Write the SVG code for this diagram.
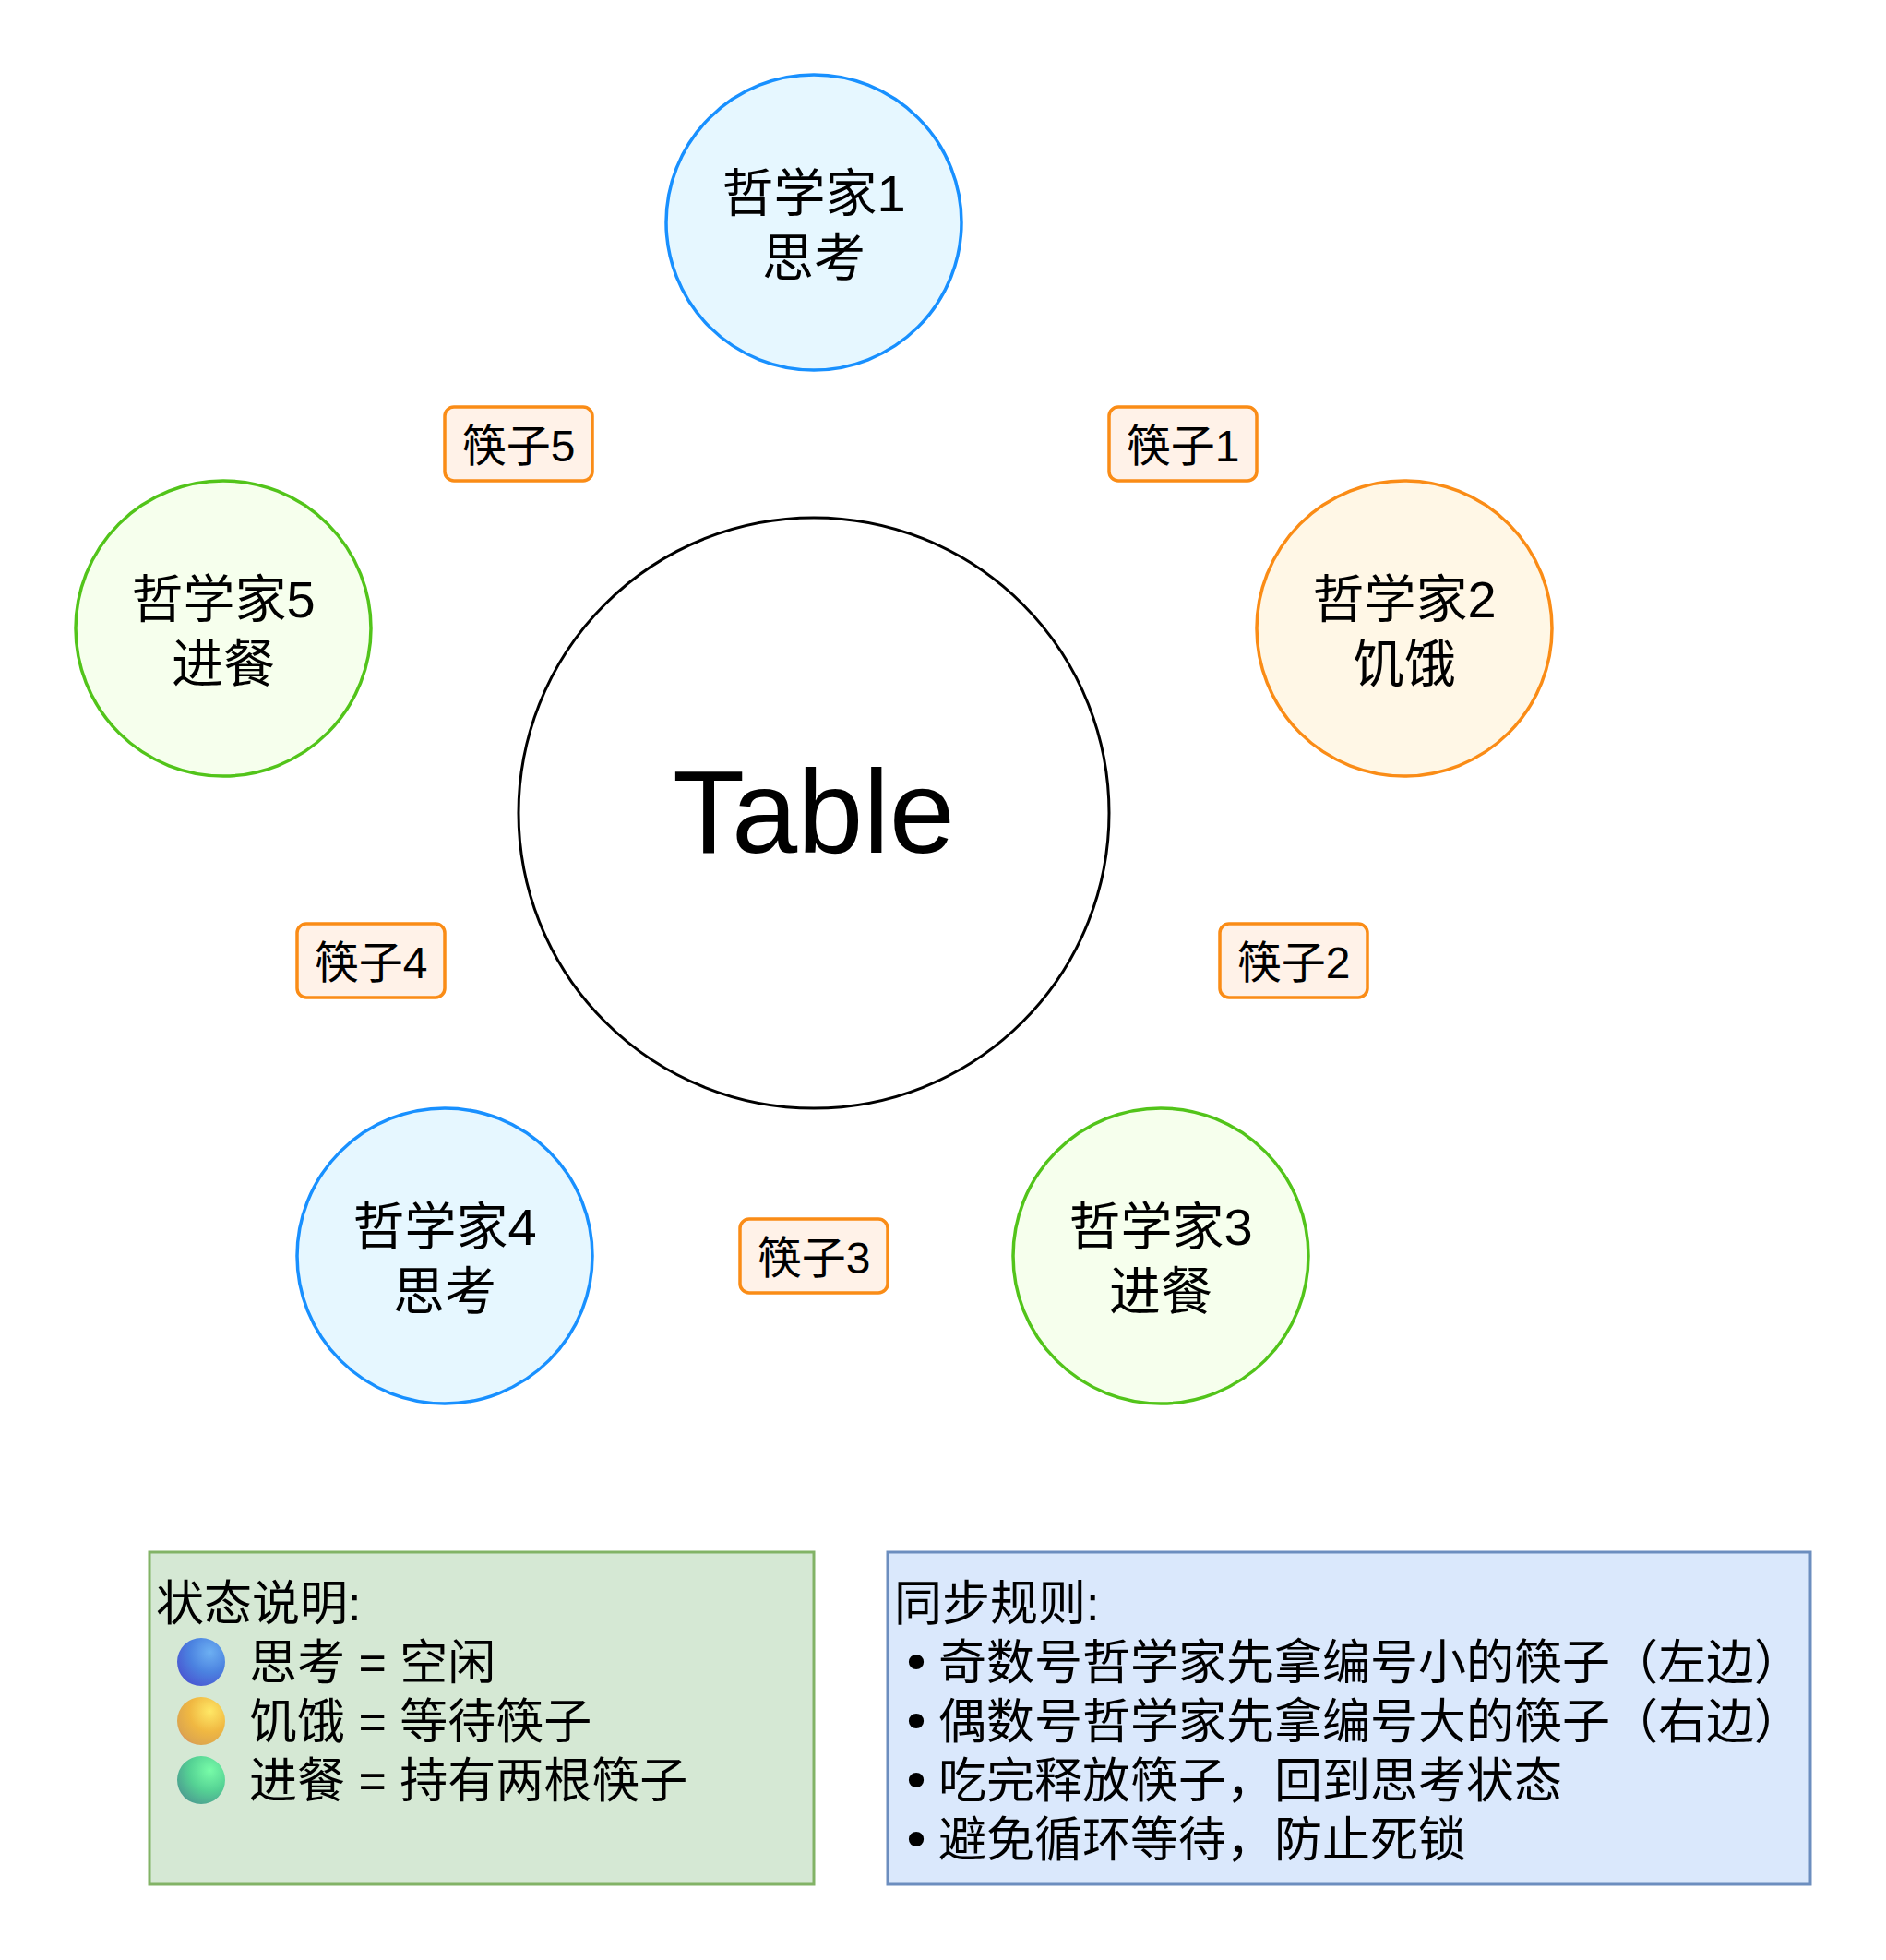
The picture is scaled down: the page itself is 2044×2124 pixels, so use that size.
<svg xmlns="http://www.w3.org/2000/svg" width="2044" height="2124" viewBox="0 0 2044 2124">
  <defs>
    <style>
      text { font-family: "Liberation Sans", "Noto Sans CJK SC", sans-serif; fill: #000; }
      .phil { stroke-width: 3.5; }
      .think { fill: #E6F7FF; stroke: #1890FF; }
      .hungry { fill: #FFF7E6; stroke: #FA8C16; }
      .eat { fill: #F6FFED; stroke: #52C41A; }
      .ptxt { font-size: 56px; text-anchor: middle; }
      .chop { fill: #FFF2E8; stroke: #FA8C16; stroke-width: 3.5; }
      .ctxt { font-size: 48px; text-anchor: middle; }
      .btxt { font-size: 52px; }
      .bullet { font-family: "DejaVu Sans", sans-serif; font-size: 56px; text-anchor: middle; }
    </style>
    <radialGradient id="gBlue" cx="0.68" cy="0.3" r="0.85">
      <stop offset="0" stop-color="#6DB0F2"/>
      <stop offset="0.5" stop-color="#4B82E0"/>
      <stop offset="1" stop-color="#4A4FCF"/>
    </radialGradient>
    <radialGradient id="gYellow" cx="0.68" cy="0.3" r="0.85">
      <stop offset="0" stop-color="#FFE866"/>
      <stop offset="0.5" stop-color="#F0B842"/>
      <stop offset="0.85" stop-color="#DDA64E"/>
      <stop offset="1" stop-color="#E07A66"/>
    </radialGradient>
    <radialGradient id="gGreen" cx="0.68" cy="0.3" r="0.85">
      <stop offset="0" stop-color="#78FCA8"/>
      <stop offset="0.5" stop-color="#55D294"/>
      <stop offset="1" stop-color="#4A9490"/>
    </radialGradient>
  </defs>

  <rect x="0" y="0" width="2044" height="2124" fill="#FFFFFF"/>

  <g id="connectors"></g>

  <g id="table">
    <circle cx="882" cy="881" r="320" fill="#FFFFFF" stroke="#000000" stroke-width="3"/>
    <text x="882" y="924" font-size="128" text-anchor="middle">Table</text>
  </g>

  <g id="philosopher1">
    <circle class="phil think" cx="882" cy="241" r="160"/>
    <text class="ptxt" x="882" y="229">哲学家1</text>
    <text class="ptxt" x="882" y="299">思考</text>
  </g>
  <g id="philosopher2">
    <circle class="phil hungry" cx="1522" cy="681" r="160"/>
    <text class="ptxt" x="1522" y="669">哲学家2</text>
    <text class="ptxt" x="1522" y="739">饥饿</text>
  </g>
  <g id="philosopher3">
    <circle class="phil eat" cx="1258" cy="1361" r="160"/>
    <text class="ptxt" x="1258" y="1349">哲学家3</text>
    <text class="ptxt" x="1258" y="1419">进餐</text>
  </g>
  <g id="philosopher4">
    <circle class="phil think" cx="482" cy="1361" r="160"/>
    <text class="ptxt" x="482" y="1349">哲学家4</text>
    <text class="ptxt" x="482" y="1419">思考</text>
  </g>
  <g id="philosopher5">
    <circle class="phil eat" cx="242" cy="681" r="160"/>
    <text class="ptxt" x="242" y="669">哲学家5</text>
    <text class="ptxt" x="242" y="739">进餐</text>
  </g>

  <g id="chopstick1">
    <rect class="chop" x="1202" y="441" width="160" height="80" rx="10"/>
    <text class="ctxt" x="1282" y="500">筷子1</text>
  </g>
  <g id="chopstick2">
    <rect class="chop" x="1322" y="1001" width="160" height="80" rx="10"/>
    <text class="ctxt" x="1402" y="1060">筷子2</text>
  </g>
  <g id="chopstick3">
    <rect class="chop" x="802" y="1321" width="160" height="80" rx="10"/>
    <text class="ctxt" x="882" y="1380">筷子3</text>
  </g>
  <g id="chopstick4">
    <rect class="chop" x="322" y="1001" width="160" height="80" rx="10"/>
    <text class="ctxt" x="402" y="1060">筷子4</text>
  </g>
  <g id="chopstick5">
    <rect class="chop" x="482" y="441" width="160" height="80" rx="10"/>
    <text class="ctxt" x="562" y="500">筷子5</text>
  </g>

  <g id="legend">
    <rect x="162" y="1682" width="720" height="360" fill="#D5E8D4" stroke="#82B366" stroke-width="3"/>
    <text class="btxt" x="169" y="1756">状态说明:</text>
    <circle cx="218" cy="1801" r="26" fill="url(#gBlue)"/>
    <text class="btxt" x="270" y="1820">思考 = 空闲</text>
    <circle cx="218" cy="1865" r="26" fill="url(#gYellow)"/>
    <text class="btxt" x="270" y="1884">饥饿 = 等待筷子</text>
    <circle cx="218" cy="1929" r="26" fill="url(#gGreen)"/>
    <text class="btxt" x="270" y="1948">进餐 = 持有两根筷子</text>
  </g>

  <g id="rules">
    <rect x="962" y="1682" width="1000" height="360" fill="#DAE8FC" stroke="#6C8EBF" stroke-width="3"/>
    <text class="btxt" x="969" y="1756">同步规则:</text>
    <text class="bullet" x="993" y="1822">•</text>
    <text class="btxt" x="1017" y="1820">奇数号哲学家先拿编号小的筷子（左边）</text>
    <text class="bullet" x="993" y="1886">•</text>
    <text class="btxt" x="1017" y="1884">偶数号哲学家先拿编号大的筷子（右边）</text>
    <text class="bullet" x="993" y="1950">•</text>
    <text class="btxt" x="1017" y="1948">吃完释放筷子，回到思考状态</text>
    <text class="bullet" x="993" y="2014">•</text>
    <text class="btxt" x="1017" y="2012">避免循环等待，防止死锁</text>
  </g>
</svg>
